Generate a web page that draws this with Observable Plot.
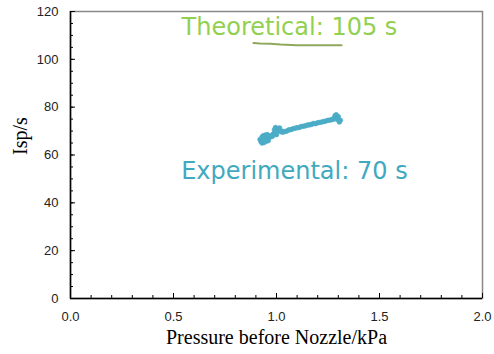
<!DOCTYPE html>
<html><head><meta charset="utf-8">
<script src="https://cdn.jsdelivr.net/npm/d3@7"></script>
<script src="https://cdn.jsdelivr.net/npm/@observablehq/plot@0.6"></script>
<style>body{margin:0;background:#fff}</style>
</head><body><div id="chart"></div>
<script>
const xTicks = [0, 0.5, 1.0, 1.5, 2.0];
const yTicks = [0, 20, 40, 60, 80, 100, 120];
const theoX = [0.888, 0.92, 0.97, 1.02, 1.10, 1.20, 1.316];
const theoY = [106.8, 106.6, 106.5, 106.2, 105.9, 105.9, 105.9];
const expX = [0.92,0.925,0.93,0.93,0.935,0.935,0.94,0.94,0.945,0.945,0.95,0.95,0.955,0.955,0.96,0.96,0.965,0.97,0.975,0.98,0.985,0.99,0.99,0.995,1.0,1.0,1.005,1.01,1.015,1.02,1.025,1.03,1.04,1.05,1.06,1.07,1.08,1.09,1.10,1.11,1.12,1.13,1.14,1.15,1.16,1.17,1.18,1.19,1.20,1.21,1.22,1.23,1.24,1.25,1.26,1.27,1.28,1.29,1.30,1.31,1.305,1.295,1.285,1.275];
const expY = [66.5,65.5,67.5,65.0,68.0,66.0,67.0,65.2,68.3,66.2,67.5,65.8,68.5,66.5,67.2,66.0,67.8,67.5,68.2,67.8,68.8,70.5,69.0,71.5,70.2,68.5,71.0,70.2,71.3,69.8,70.0,69.5,69.8,70.0,70.5,70.6,71.0,71.2,71.4,71.5,71.9,72.0,72.2,72.5,72.6,72.8,73.2,73.1,73.5,73.6,73.8,74.0,74.2,74.5,74.6,74.8,75.5,76.8,76.0,74.5,73.8,74.8,76.5,75.0];
const labelText = ["Theoretical: 105 s", "Experimental: 70 s"];
const labelX = [1.063, 1.087];
const labelY = [113.3, 53.1];
const labelColor = ["#92d050", "#41a9bf"];

const theo = theoX.map((x, i) => ({x, y: theoY[i]}));
const exp = expX.map((x, i) => ({x, y: expY[i]}));
const labels = labelText.map((t, i) => ({t, x: labelX[i], y: labelY[i], c: labelColor[i]}));

const chart = Plot.plot({
  width: 494, height: 354,
  marginLeft: 70, marginRight: 12, marginTop: 11, marginBottom: 56,
  style: {fontFamily: "'Liberation Sans', Arial, sans-serif", fontSize: "13px", color: "#000", background: "#fff", overflow: "visible"},
  x: {domain: [0, 2]},
  y: {domain: [0, 120]},
  marks: [
    Plot.frame({stroke: "#888", strokeWidth: 1.5}),
    Plot.axisX({ticks: d3.range(0, 2.001, 0.1), tickSize: -3, text: null, label: null, stroke: "#000"}),
    Plot.axisX({ticks: xTicks, tickSize: -5, tickPadding: 18, tickFormat: d3.format(".1f"), label: null, stroke: "#000", fill: "#222"}),
    Plot.axisY({ticks: d3.range(0, 121, 5), tickSize: -3, text: null, label: null, stroke: "#000"}),
    Plot.axisY({ticks: yTicks, tickSize: -5, tickPadding: 17, label: null, stroke: "#000", fill: "#222"}),
    Plot.ruleX([0], {stroke: "#000", strokeWidth: 1.5}),
    Plot.ruleY([0], {stroke: "#000", strokeWidth: 1.5}),
    Plot.line(theo, {x: "x", y: "y", stroke: "#8ea85c", strokeWidth: 2}),
    Plot.dot(exp, {x: "x", y: "y", r: 2.3, fill: "#4bacc6", stroke: "#4bacc6", strokeWidth: 0.8}),
    Plot.text(labels, {x: "x", y: "y", text: "t", fill: "c", fontSize: 24, fontFamily: "'DejaVu Sans', sans-serif"}),
    Plot.text(["Isp/s"], {frameAnchor: "left", dx: -50, rotate: -90, lineAnchor: "middle", fontSize: 20, fontFamily: "'Liberation Serif', serif", fill: "#000"}),
    Plot.text(["Pressure before Nozzle/kPa"], {frameAnchor: "bottom", dy: 39, lineAnchor: "middle", fontSize: 20, fontFamily: "'Liberation Serif', serif", fill: "#000"})
  ]
});
document.getElementById("chart").appendChild(chart);
</script></body></html>
